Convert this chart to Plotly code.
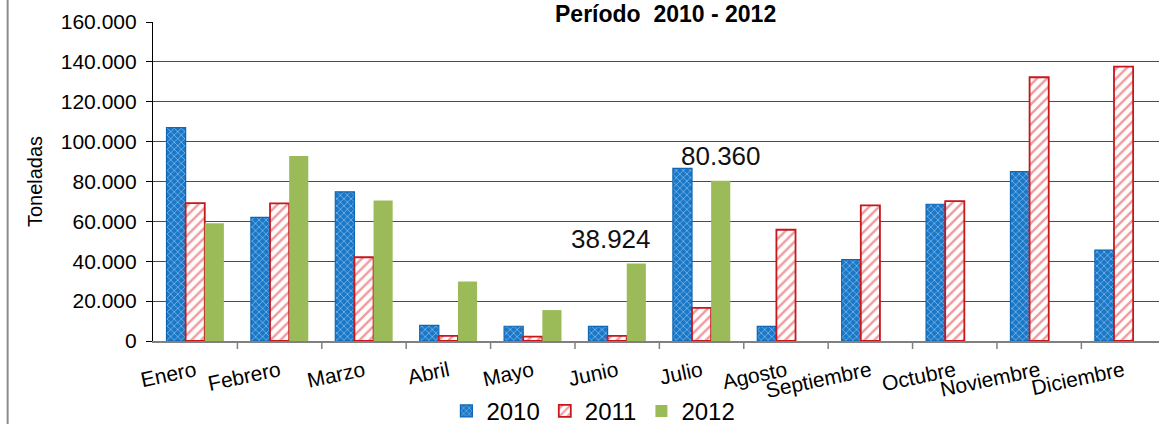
import plotly.graph_objects as go

months = ["Enero", "Febrero", "Marzo", "Abril", "Mayo", "Junio", "Julio",
          "Agosto", "Septiembre", "Octubre", "Noviembre", "Diciembre"]
v2010 = [107000, 62000, 74800, 7800, 7400, 7300, 86600, 7300, 40800, 68600, 85000, 45600]
v2011 = [69200, 69000, 42000, 2600, 2200, 2600, 16600, 55800, 68000, 70200, 132300, 137600]
v2012 = [59000, 92800, 70500, 29800, 15500, 38924, 80360, None, None, None, None, None]
y_ticks = [0, 20000, 40000, 60000, 80000, 100000, 120000, 140000, 160000]

FONT = "Liberation Sans, Arial, sans-serif"
idx = list(range(len(months)))

fig = go.Figure()
fig.add_trace(go.Bar(
    x=idx, y=v2010, name="2010",
    marker=dict(color="#1a78c8", line=dict(color="#0f66b5", width=1.2),
                pattern=dict(shape="x", fgcolor="#e2f0ff", bgcolor="#1a78c8",
                             size=5, solidity=0.3)),
))
fig.add_trace(go.Bar(
    x=idx, y=v2011, name="2011",
    marker=dict(color="white", line=dict(color="#c8161d", width=1.8),
                pattern=dict(shape="/", fgcolor="#e2353b", bgcolor="white",
                             size=7, solidity=0.35)),
))
fig.add_trace(go.Bar(
    x=idx, y=v2012, name="2012",
    marker=dict(color="#9bbb59", line=dict(color="#9bbb59", width=0)),
))

fig.add_annotation(x=6, y=v2012[6], text="80.360", showarrow=False,
                   xshift=19, yshift=8, yanchor="bottom",
                   font=dict(family=FONT, size=26, color="#111"))
fig.add_annotation(x=5, y=v2012[5], text="38.924", showarrow=False,
                   xshift=-6, yshift=7, yanchor="bottom",
                   font=dict(family=FONT, size=26, color="#111"))

fig.add_annotation(xref="paper", yref="paper", x=0.5, y=1.0,
                   text="<b>Período  2010 - 2012</b>", showarrow=False,
                   xanchor="center", yanchor="bottom", xshift=9, yshift=-7,
                   font=dict(family=FONT, size=23, color="#000"))

# left chart frame line
fig.add_shape(type="line", xref="paper", yref="paper",
              x0=-0.1445, x1=-0.1445, y0=-0.3, y1=1.1,
              line=dict(color="#8c8c8c", width=2))

fig.update_layout(
    width=1159, height=424,
    margin=dict(l=153, r=0, t=22, b=83),
    paper_bgcolor="white", plot_bgcolor="white",
    separators=",.",
    barmode="group", bargap=0.32, bargroupgap=0,
    font=dict(family=FONT, size=21, color="#000"),
    showlegend=True,
    legend=dict(orientation="h", xref="container", yref="container",
                x=0.512, xanchor="center", y=0.03, yanchor="middle",
                font=dict(family=FONT, size=24, color="#000"),
                itemwidth=30, tracegroupgap=0, bgcolor="rgba(0,0,0,0)"),
    xaxis=dict(
        range=[-0.5, 11.42], tickmode="array", tickvals=idx, ticktext=months,
        tickangle=-12, showgrid=False, showline=True, linecolor="#808080",
        linewidth=1.5, ticks="", tickfont=dict(family=FONT, size=21),
        zeroline=False, automargin=False, ticklabelstandoff=8,
    ),
    yaxis=dict(
        range=[0, 160000], tickmode="array", tickvals=y_ticks, tickformat=",d",
        showgrid=True, gridcolor="#4d4d4d", gridwidth=1,
        showline=True, linecolor="#000", linewidth=1.2, ticks="outside",
        ticklen=6, tickcolor="#000", zeroline=False, automargin=False,
        ticklabelstandoff=5,
        title=dict(text="Toneladas", font=dict(family=FONT, size=20), standoff=12),
        tickfont=dict(family=FONT, size=21),
    ),
)

# category boundary tick marks on x-axis
for k in range(1, 12):
    fig.add_shape(type="line", xref="x", yref="paper", x0=k - 0.5, x1=k - 0.5,
                  y0=0, y1=-0.025, line=dict(color="#808080", width=1.5))

fig.write_html("out.html", config={"displayModeBar": False},
               post_script="document.body.style.margin='0';document.body.style.padding='0';")
